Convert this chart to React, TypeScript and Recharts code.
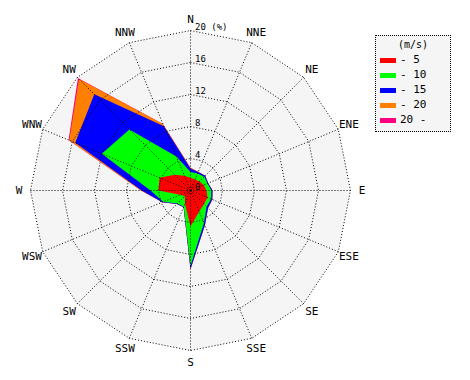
import React from 'react';
import { RadarChart, Radar, PolarGrid, PolarAngleAxis, PolarRadiusAxis, Legend } from 'recharts';

const DIRS = ['N', 'NNE', 'NE', 'ENE', 'E', 'ESE', 'SE', 'SSE', 'S', 'SSW', 'SW', 'WSW', 'W', 'WNW', 'NW', 'NNW'];
// frequency (%) per speed class
const SPEED_0_5 = [1.6, 1.5, 1.6, 1.8, 2.0, 2.3, 2.4, 2.85, 4.5, 1.8, 1.0, 1.4, 4.0, 4.2, 2.8, 2.0];
const SPEED_5_10 = [0.7, 0.8, 0.85, 0.5, 0.6, 0.5, 0.45, 1.55, 4.9, 0.4, 1.3, 2.3, 1.0, 7.8, 8.0, 2.6];
const SPEED_10_15 = [0.45, 0.2, 0.15, 0.1, 0.15, 0.15, 0.25, 0.3, 0.4, 0.05, 0.1, 0.1, 1.1, 3.6, 6.2, 4.1];
const SPEED_15_20 = [0.1, 0.05, 0, 0, 0, 0, 0, 0, 0.05, 0, 0, 0, 0.1, 0.8, 2.7, 0.3];
const SPEED_20_UP = [0, 0, 0, 0, 0, 0, 0, 0, 0, 0, 0, 0, 0, 0.1, 0.2, 0];
const CLASS_LABELS = ['- 5', '- 10', '- 15', '- 20', '20 -'];
const CLASS_COLORS = ['#ff0000', '#00ff00', '#0000ff', '#ff8000', '#ff0080'];
const RADIUS_TICKS = [0, 4, 8, 12, 16, 20];
const MAX_PCT = 20;

const CX = 190.5;
const CY = 190.5;
const R = 160;
const FONT = '"DejaVu Sans Mono", monospace';
const W = 470;
const H = 380;

const classes = [SPEED_0_5, SPEED_5_10, SPEED_10_15, SPEED_15_20, SPEED_20_UP];
const data = DIRS.map((dir, i) => {
  const row: any = { dir, bg: MAX_PCT };
  let sum = 0;
  classes.forEach((arr, k) => {
    sum += arr[i];
    row['c' + k] = +sum.toFixed(3);
  });
  return row;
});

const AngleTick = (props: any) => {
  const { payload } = props;
  const idx = DIRS.indexOf(payload.value);
  const th = (idx * 22.5 * Math.PI) / 180;
  const rr = 171.5;
  const x = CX + rr * Math.sin(th);
  const y = CY - rr * Math.cos(th);
  return (
    <text x={x} y={y} textAnchor="middle" dominantBaseline="central" fontFamily={FONT} fontSize={11} fill="#000">
      {payload.value}
    </text>
  );
};

const RadiusTick = (props: any) => {
  const { x, y, payload } = props;
  const label = payload.value === MAX_PCT ? `${payload.value} (%)` : `${payload.value}`;
  return (
    <text x={x + 4.5} y={y - 3.5} textAnchor="start" dominantBaseline="central" fontFamily={FONT} fontSize={9} fill="#000">
      {label}
    </text>
  );
};

const LegendBox = () => (
  <div
    style={{
      position: 'relative',
      width: 76,
      height: 97,
      boxSizing: 'border-box',
      border: '1px dotted #000',
      background: '#f5f5f5',
      fontFamily: FONT,
      color: '#000',
    }}
  >
    <div style={{ position: 'absolute', left: 0, width: 74, top: 3, textAlign: 'center', fontSize: 10, lineHeight: '12px' }}>(m/s)</div>
    {CLASS_LABELS.map((lab, i) => (
      <React.Fragment key={lab}>
        <div style={{ position: 'absolute', left: 4, top: 21.5 + i * 15, width: 16, height: 5, background: CLASS_COLORS[i] }} />
        <div style={{ position: 'absolute', left: 24, top: 17 + i * 15, fontSize: 11, lineHeight: '14px', whiteSpace: 'pre' }}>{lab}</div>
      </React.Fragment>
    ))}
  </div>
);

const common = {
  width: W,
  height: H,
  data,
  cx: CX,
  cy: CY,
  outerRadius: R,
  margin: { top: 0, right: 0, bottom: 0, left: 0 },
};

export default function App() {
  return (
    <div style={{ position: 'absolute', left: 0, top: 0, width: W, height: H, background: '#fff' }}>
      <div style={{ position: 'absolute', left: 0, top: 0 }}>
        <RadarChart {...common}>
          <PolarAngleAxis dataKey="dir" tick={false} axisLine={false} tickLine={false} />
          <PolarRadiusAxis angle={90} domain={[0, MAX_PCT]} ticks={RADIUS_TICKS as any} tick={false} axisLine={false} tickLine={false} />
          <Radar dataKey="bg" fill="#f5f5f5" fillOpacity={1} stroke="none" isAnimationActive={false} />
          <Radar dataKey="c4" fill={CLASS_COLORS[4]} fillOpacity={1} stroke="none" isAnimationActive={false} />
          <Radar dataKey="c3" fill={CLASS_COLORS[3]} fillOpacity={1} stroke="none" isAnimationActive={false} />
          <Radar dataKey="c2" fill={CLASS_COLORS[2]} fillOpacity={1} stroke="none" isAnimationActive={false} />
          <Radar dataKey="c1" fill={CLASS_COLORS[1]} fillOpacity={1} stroke="none" isAnimationActive={false} />
          <Radar dataKey="c0" fill={CLASS_COLORS[0]} fillOpacity={1} stroke="none" isAnimationActive={false} />
        </RadarChart>
      </div>
      <div style={{ position: 'absolute', left: 0, top: 0, pointerEvents: 'none' }}>
        <RadarChart {...common}>
          <Radar dataKey="bg" fill="none" stroke="none" isAnimationActive={false} legendType="none" />
          <PolarGrid gridType="polygon" stroke="#000" strokeDasharray="1 2" strokeWidth={1} />
          <PolarAngleAxis dataKey="dir" tick={AngleTick} axisLine={false} tickLine={false} />
          <PolarRadiusAxis
            angle={90}
            domain={[0, MAX_PCT]}
            ticks={RADIUS_TICKS as any}
            tickCount={6}
            axisLine={false}
            tickLine={false}
            tick={RadiusTick}
          />
          <Legend
            content={() => <LegendBox />}
            wrapperStyle={{ position: 'absolute', left: 375, top: 35, width: 76, height: 97, right: 'auto', bottom: 'auto' }}
          />
        </RadarChart>
      </div>
    </div>
  );
}
